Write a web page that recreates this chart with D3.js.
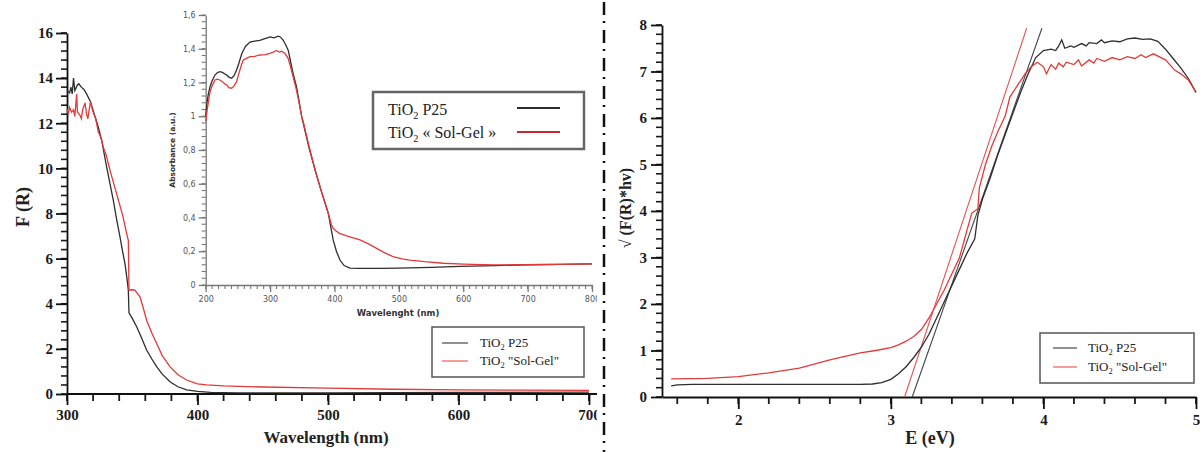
<!DOCTYPE html>
<html><head><meta charset="utf-8">
<script src="https://cdn.jsdelivr.net/npm/d3@7"></script>
<style>body{margin:0;background:#fff}svg{display:block}</style>
</head><body><svg id="c" width="1203" height="452"></svg>
<script>
// ---------- DATA ----------
// Left main: F(R) vs wavelength
const p25Wl = [300,302,303,304,305,306,308,309,311,313,315,318,320,322,324,326.6,328,330.4,333,335.5,338,340.6,342.5,344.4,346,347,347.5,350,353.4,357,361,365,368.7,373,378.9,385,391.7,400,410,430,500,600,700];
const p25F  = [13.45,13.35,13.6,13.3,14.0,13.45,13.7,13.75,13.6,13.5,13.3,12.95,12.57,12.2,11.83,11.24,10.8,10.06,9.3,8.58,7.75,6.96,6.35,5.78,5.1,4.6,3.6,3.35,2.98,2.5,1.95,1.55,1.21,0.88,0.54,0.32,0.18,0.12,0.07,0.05,0.05,0.07,0.08];
const solWl = [300,301,302,303.6,305,306,307.4,308,310,311,312,313.8,315,316,317,318,319,320,322,324,325,326.6,327.8,330,333,338,343,345,347,347.5,350,352,356,358.5,361,365,368.7,373,379,385,391.7,400,407,420,450,500,550,600,650,700];
const solF  = [12.64,12.4,12.7,12.49,12.6,12.3,13.3,12.5,12.35,12.2,12.6,12.9,12.4,12.2,12.6,12.95,12.7,12.5,12.2,11.6,11.5,11.24,10.94,10.6,9.9,8.88,7.84,7.3,6.8,4.6,4.62,4.6,4.3,3.8,3.27,2.7,2.24,1.7,1.2,0.85,0.62,0.45,0.4,0.36,0.31,0.26,0.21,0.18,0.17,0.16];
const leftXTicks = [300,400,500,600,700];
const leftYTicks = [0,2,4,6,8,10,12,14,16];

// Inset: Absorbance vs wavelength
const insP25Wl = [200,202,204,206.7,210,214.4,218,222,226,230,232.6,236,240.4,244,248,252,256,258.4,262,268.8,276,284,292,300,306,312.7,316,320.5,324,328.3,332,336,341,345,349,352,360,370,380,390.4,395,398,403,408.5,415,424,440,470,500,550,595,650,698,750,800];
const insP25A  = [1.0,1.08,1.13,1.175,1.21,1.244,1.258,1.264,1.26,1.25,1.244,1.232,1.225,1.24,1.274,1.32,1.37,1.39,1.415,1.44,1.445,1.45,1.46,1.47,1.465,1.475,1.47,1.45,1.425,1.39,1.32,1.25,1.175,1.09,1.0,0.95,0.82,0.68,0.55,0.425,0.33,0.267,0.2,0.148,0.115,0.1,0.098,0.098,0.1,0.105,0.11,0.115,0.12,0.122,0.125];
const insSolWl = [200,202,204,206.7,210,214.4,218,222,226,230,232.6,236,240.4,244,248,252,256,258.4,262,268.8,276,284,292,300,305,310,314,318,323,328,332,336,341,345,349,352,360,370,380,390.4,395,398,403,408,420,439.6,452,465.5,478,491,505,517,540,569,600,646.6,700,750,800];
const insSolA  = [0.97,1.03,1.08,1.145,1.18,1.215,1.22,1.215,1.205,1.19,1.185,1.17,1.166,1.18,1.205,1.26,1.31,1.333,1.34,1.353,1.355,1.363,1.365,1.373,1.38,1.39,1.38,1.385,1.373,1.343,1.29,1.23,1.155,1.08,1.0,0.96,0.83,0.68,0.55,0.425,0.36,0.336,0.318,0.306,0.29,0.267,0.245,0.217,0.19,0.168,0.155,0.148,0.138,0.129,0.124,0.119,0.12,0.122,0.125];
const insXTicks = [200,300,400,500,600,700,800];
const insYTicks = [0,0.2,0.4,0.6,0.8,1,1.2,1.4,1.6];
const insYTickLabels = ["0","0,2","0,4","0,6","0,8","1","1,2","1,4","1,6"];

// Right: sqrt(F(R)*hv) vs E
const rP25E = [1.56,1.6,1.7,2.0,2.5,2.8,2.88,2.94,3.0,3.05,3.1,3.15,3.2,3.25,3.3,3.35,3.4,3.45,3.5,3.55,3.57,3.6,3.65,3.7,3.75,3.8,3.85,3.9,3.95,4.0,4.05,4.08,4.1,4.12,4.14,4.18,4.2,4.25,4.28,4.3,4.35,4.38,4.4,4.45,4.5,4.55,4.6,4.65,4.7,4.75,4.8,4.85,4.9,4.95,5.0];
const rP25V = [0.24,0.26,0.27,0.27,0.27,0.27,0.28,0.31,0.38,0.5,0.65,0.85,1.07,1.35,1.7,2.05,2.4,2.75,3.1,3.4,3.9,4.25,4.7,5.2,5.65,6.1,6.55,6.95,7.3,7.45,7.48,7.45,7.55,7.68,7.5,7.55,7.52,7.6,7.55,7.62,7.6,7.68,7.62,7.66,7.64,7.7,7.72,7.69,7.7,7.65,7.48,7.28,7.08,6.85,6.55];
const rSolE = [1.56,1.8,2.0,2.2,2.4,2.6,2.8,2.9,3.0,3.05,3.1,3.15,3.2,3.25,3.3,3.35,3.4,3.45,3.5,3.53,3.57,3.58,3.62,3.66,3.7,3.75,3.78,3.8,3.84,3.88,3.92,3.96,4.0,4.02,4.05,4.08,4.1,4.13,4.15,4.2,4.23,4.25,4.3,4.33,4.35,4.4,4.45,4.5,4.55,4.6,4.64,4.67,4.72,4.8,4.86,4.9,4.95,5.0];
const rSolV = [0.39,0.4,0.44,0.52,0.62,0.8,0.95,1.0,1.06,1.12,1.2,1.3,1.45,1.7,2.0,2.3,2.65,3.0,3.6,3.95,4.05,4.5,5.0,5.38,5.7,6.05,6.45,6.55,6.75,6.95,7.1,7.2,7.1,6.95,7.15,7.05,7.18,7.1,7.2,7.15,7.25,7.12,7.25,7.18,7.28,7.22,7.3,7.25,7.32,7.28,7.36,7.3,7.38,7.25,7.03,6.95,6.82,6.55];
const tanSolE = [3.09,3.89], tanSolV = [0,7.93];
const tanP25E = [3.14,3.99], tanP25V = [0,7.93];
const rightXTicks = [2,3,4,5];
const rightYTicks = [0,1,2,3,4,5,6,7,8];

const legendMain = ["TiO₂ P25", "TiO₂ \"Sol-Gel\""];
const legendInset = ["TiO₂ P25", "TiO₂ « Sol-Gel »"];

// ---------- DRAW ----------
const svg = d3.select("#c");
const BLACK = "#2e2e2e", RED = "#e23a3a";
const serif = "'Liberation Serif','Times New Roman',serif";
const sans = "'DejaVu Sans',Verdana,sans-serif";

svg.append("defs").append("clipPath").attr("id","clipL")
  .append("rect").attr("x",0).attr("y",0).attr("width",597).attr("height",452);
const L = svg.append("g").attr("clip-path","url(#clipL)");

function styleAxis(g, color, font, size, weight, w){
  g.select(".domain").attr("stroke",color).attr("stroke-width",w);
  g.selectAll(".tick line").attr("stroke",color).attr("stroke-width",w);
  g.selectAll(".tick text").attr("fill",color==="#777"?"#555":"#1a1a1a")
    .style("font-family",font).style("font-size",size+"px").style("font-weight",weight);
}
// minor ticks drawn from the scale: orient 'x' -> downward from pos, 'y' -> leftward from pos
function minor(parent, orient, scale, vals, pos, size, color, w){
  const g = parent.append("g");
  g.selectAll("line").data(vals).join("line")
    .attr("x1", d => orient==="x" ? scale(d) : pos)
    .attr("x2", d => orient==="x" ? scale(d) : pos - size)
    .attr("y1", d => orient==="x" ? pos : scale(d))
    .attr("y2", d => orient==="x" ? pos + size : scale(d))
    .attr("stroke", color).attr("stroke-width", w);
}
function range(a,b,s){const r=[];for(let v=a;v<=b+1e-9;v+=s)r.push(+v.toFixed(4));return r;}

// Left main
const xL = d3.scaleLinear().domain([300,700]).range([67,589]);
const yL = d3.scaleLinear().domain([0,16]).range([394,33]);
minor(L, "x", xL, range(300,720,20), 394, 7, "#1a1a1a", 1.8);
minor(L, "y", yL, range(0,16,0.4), 67, 6, "#1a1a1a", 1.6);
const gxL = L.append("g").attr("transform","translate(0,394)")
  .call(d3.axisBottom(xL).tickValues(leftXTicks).tickSize(11).tickSizeOuter(0).tickPadding(4).tickFormat(d3.format("d")));
gxL.select(".domain").attr("d","M67,0H597");
styleAxis(gxL,"#111",serif,15,"bold",1.8);
const gyL = L.append("g").attr("transform","translate(67,0)")
  .call(d3.axisLeft(yL).tickValues(leftYTicks).tickSize(11).tickSizeOuter(0).tickPadding(3));
styleAxis(gyL,"#111",serif,15,"bold",1.8);

const lineL = d3.line().x(d=>xL(d[0])).y(d=>yL(d[1]));
L.append("path").datum(d3.zip(p25Wl,p25F)).attr("d",lineL).attr("fill","none").attr("stroke",BLACK).attr("stroke-width",1.3);
L.append("path").datum(d3.zip(solWl,solF)).attr("d",lineL).attr("fill","none").attr("stroke",RED).attr("stroke-width",1.3);

L.append("text").attr("transform","translate(25,207) rotate(-90)").attr("text-anchor","middle").attr("dominant-baseline","middle")
  .style("font-family",serif).style("font-size","18px").style("font-weight","bold").attr("fill","#222").text("F (R)");
L.append("text").attr("x",326).attr("y",443).attr("text-anchor","middle")
  .style("font-family",serif).style("font-size","17px").style("font-weight","bold").attr("fill","#222").text("Wavelength (nm)");

// Inset
const xI = d3.scaleLinear().domain([200,800]).range([205.7,592]);
const yI = d3.scaleLinear().domain([0,1.6]).range([285,15]);
const IC = "#777";
minor(L, "x", xI, range(200,800,10), 285, 4, IC, 1.1);
minor(L, "y", yI, range(0,1.6,0.04), 205.7, 4, IC, 1.1);
const gxI = L.append("g").attr("transform","translate(0,285)")
  .call(d3.axisBottom(xI).tickValues(insXTicks).tickSize(7).tickSizeOuter(0).tickPadding(4).tickFormat(d3.format("d")));
styleAxis(gxI,IC,sans,8,"normal",1.3);
const gyI = L.append("g").attr("transform","translate(205.7,0)")
  .call(d3.axisLeft(yI).tickValues(insYTicks).tickSize(7).tickSizeOuter(0).tickPadding(3).tickFormat((d,i)=>insYTickLabels[i]));
styleAxis(gyI,IC,sans,8,"normal",1.3);
const lineI = d3.line().x(d=>xI(d[0])).y(d=>yI(d[1]));
L.append("path").datum(d3.zip(insP25Wl,insP25A)).attr("d",lineI).attr("fill","none").attr("stroke",BLACK).attr("stroke-width",1.3);
L.append("path").datum(d3.zip(insSolWl,insSolA)).attr("d",lineI).attr("fill","none").attr("stroke",RED).attr("stroke-width",1.3);
L.append("text").attr("transform","translate(173,150) rotate(-90)").attr("text-anchor","middle").attr("dominant-baseline","middle")
  .style("font-family",sans).style("font-size","7.5px").style("font-weight","bold").attr("fill","#333").text("Absorbance (a.u.)");
L.append("text").attr("x",398).attr("y",316).attr("text-anchor","middle")
  .style("font-family",sans).style("font-size","8.5px").style("font-weight","bold").attr("fill","#333").text("Wavelenght (nm)");

// Legend helper
function addLabel(g, x, y, label, size){
  const t = g.append("text").attr("x",x).attr("y",y).style("font-family",serif).style("font-size",size+"px").attr("fill","#222");
  const parts = label.split("₂");
  t.append("tspan").text(parts[0]);
  t.append("tspan").attr("dy",size*0.25).style("font-size",(size*0.65)+"px").text("2");
  t.append("tspan").attr("dy",-size*0.25).text(parts[1]);
}
// Inset legend
L.append("rect").attr("x",373).attr("y",92).attr("width",211).attr("height",57).attr("fill","#fff").attr("stroke","#666").attr("stroke-width",2.5);
addLabel(L,388,115,legendInset[0],16);
addLabel(L,388,138,legendInset[1],16);
L.append("line").attr("x1",517).attr("x2",560).attr("y1",108).attr("y2",108).attr("stroke",BLACK).attr("stroke-width",2.2);
L.append("line").attr("x1",517).attr("x2",560).attr("y1",132).attr("y2",132).attr("stroke","#c8282e").attr("stroke-width",2.2);

// Left main legend
L.append("rect").attr("x",432).attr("y",327).attr("width",152).attr("height",50).attr("fill","#fff").attr("stroke","#555").attr("stroke-width",1.5);
L.append("line").attr("x1",442).attr("x2",468).attr("y1",343).attr("y2",343).attr("stroke","#555").attr("stroke-width",1.3);
L.append("line").attr("x1",442).attr("x2",468).attr("y1",361).attr("y2",361).attr("stroke","#ee6a6a").attr("stroke-width",1.3);
addLabel(L,480,347,legendMain[0],13);
addLabel(L,480,365,legendMain[1],13);

// Divider
svg.append("line").attr("x1",604).attr("x2",604).attr("y1",2).attr("y2",452)
  .attr("stroke","#111").attr("stroke-width",2.5).attr("stroke-dasharray","13,6,2,7");

// Right chart
const R = svg.append("g");
const xR = d3.scaleLinear().domain([1.5,5]).range([662,1196]);
const yR = d3.scaleLinear().domain([0,8]).range([397,25]);
minor(R, "x", xR, range(1.6,5,0.2), 397, 7, "#1a1a1a", 1.8);
minor(R, "y", yR, range(0,8,0.2), 662, 6, "#1a1a1a", 1.6);
const gxR = R.append("g").attr("transform","translate(0,397)")
  .call(d3.axisBottom(xR).tickValues(rightXTicks).tickSize(12).tickSizeOuter(0).tickPadding(5).tickFormat(d3.format("d")));
styleAxis(gxR,"#111",serif,15,"bold",1.8);
const gyR = R.append("g").attr("transform","translate(662,0)")
  .call(d3.axisLeft(yR).tickValues(rightYTicks).tickSize(11).tickSizeOuter(0).tickPadding(4));
styleAxis(gyR,"#111",serif,15,"bold",1.8);

const lineR = d3.line().x(d=>xR(d[0])).y(d=>yR(d[1]));
R.append("path").datum(d3.zip(tanP25E,tanP25V)).attr("d",lineR).attr("fill","none").attr("stroke","#444").attr("stroke-width",1.1);
R.append("path").datum(d3.zip(tanSolE,tanSolV)).attr("d",lineR).attr("fill","none").attr("stroke","#e05555").attr("stroke-width",1.1);
R.append("path").datum(d3.zip(rP25E,rP25V)).attr("d",lineR).attr("fill","none").attr("stroke",BLACK).attr("stroke-width",1.3);
R.append("path").datum(d3.zip(rSolE,rSolV)).attr("d",lineR).attr("fill","none").attr("stroke",RED).attr("stroke-width",1.3);

R.append("text").attr("transform","translate(627,208) rotate(-90)").attr("text-anchor","middle").attr("dominant-baseline","middle")
  .style("font-family",serif).style("font-size","16px").style("font-weight","bold").attr("fill","#222").text("√ (F(R)*hv)");
R.append("text").attr("x",930).attr("y",444).attr("text-anchor","middle")
  .style("font-family",serif).style("font-size","18px").style("font-weight","bold").attr("fill","#222").text("E (eV)");

R.append("rect").attr("x",1040).attr("y",333).attr("width",154).attr("height",50).attr("fill","#fff").attr("stroke","#555").attr("stroke-width",1.5);
R.append("line").attr("x1",1053).attr("x2",1077).attr("y1",348).attr("y2",348).attr("stroke","#555").attr("stroke-width",1.3);
R.append("line").attr("x1",1053).attr("x2",1077).attr("y1",367).attr("y2",367).attr("stroke","#ee6a6a").attr("stroke-width",1.3);
addLabel(R,1088,352,legendMain[0],13);
addLabel(R,1088,371,legendMain[1],13);
</script></body></html>
